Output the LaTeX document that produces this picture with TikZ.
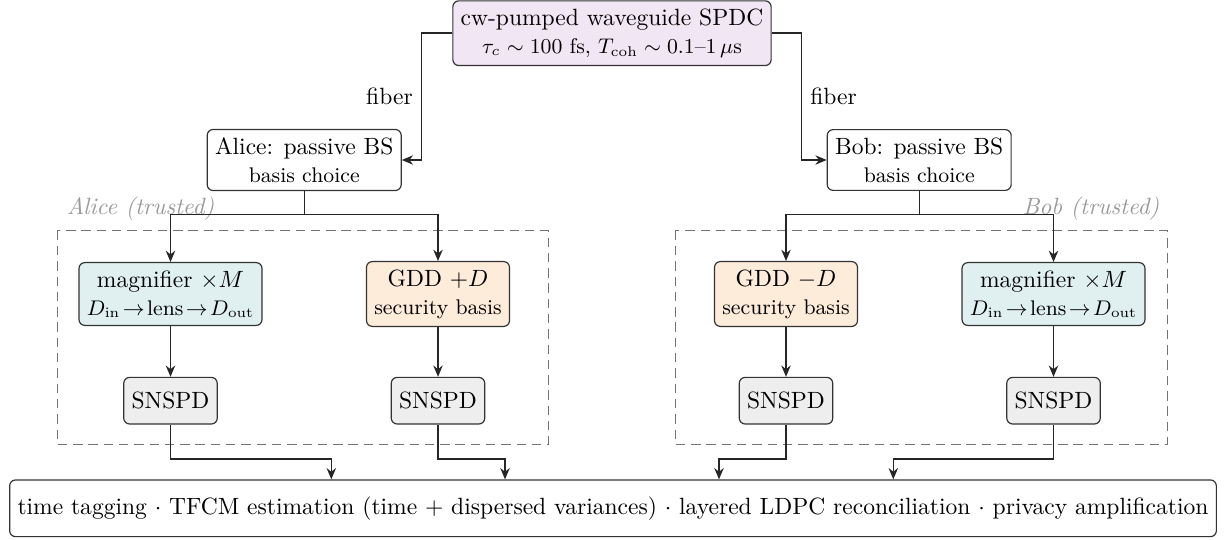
\documentclass[tikz,border=0pt]{standalone}
\usetikzlibrary{arrows.meta}
\definecolor{srcfill}{RGB}{241,230,243}
\definecolor{magfill}{RGB}{224,240,240}
\definecolor{gddfill}{RGB}{254,236,218}
\definecolor{detfill}{RGB}{238,238,238}
\begin{document}
\begin{tikzpicture}[x=0.425pt,y=-0.425pt,
  box/.style={draw=black!80, line width=0.5pt, rounded corners=2.5pt, align=center, minimum height=19.8pt, inner sep=3.33pt},
  srcbox/.style={box, fill=srcfill},
  bsbox/.style={box, fill=white},
  magbox/.style={box, fill=magfill},
  gddbox/.style={box, fill=gddfill},
  detbox/.style={box, fill=detfill},
  outbox/.style={box, fill=white, minimum height=24.1pt},
  arr/.style={draw=black!85, line width=0.6pt, -{Stealth[length=4.8pt,width=4pt]}},
  trust/.style={draw=black!55, line width=0.5pt, dash pattern=on 4pt off 2.5pt},
  trustlabel/.style={text=black!40, font=\itshape},
  fib/.style={font=\normalsize}
]
\useasboundingbox (0,0) rectangle (1225,539);

% trusted regions
\draw[trust] (57.3,230.7) rectangle (548.7,444.3);
\draw[trust] (675.3,230.7) rectangle (1167.3,444.3);
\node[trustlabel] (alab) at (140.5,209) {Alice (trusted)};
\node[trustlabel] (blab) at (1091,209) {Bob (trusted)};

% nodes
\node[srcbox] (src) at (612,33.2) {cw-pumped waveguide SPDC\\{\small $\tau_c\sim 100$ fs, $T_{\mathrm{coh}}\sim 0.1$--$1\,\mu$s}};
\node[bsbox] (alice) at (304.2,160) {Alice: passive BS\\{\small basis choice}};
\node[bsbox] (bob) at (919.2,160) {Bob: passive BS\\{\small basis choice}};

\node[magbox] (amag) at (170.5,294) {magnifier $\times M$\\{\small $D_{\mathrm{in}}\!\to\!\mathrm{lens}\!\to\!D_{\mathrm{out}}$}};
\node[gddbox] (agdd) at (438,294) {GDD $+D$\\{\small security basis}};
\node[gddbox] (bgdd) at (786,294) {GDD $-D$\\{\small security basis}};
\node[magbox] (bmag) at (1053.5,294) {magnifier $\times M$\\{\small $D_{\mathrm{in}}\!\to\!\mathrm{lens}\!\to\!D_{\mathrm{out}}$}};

\node[detbox] (asn1) at (170.5,400.7) {SNSPD};
\node[detbox] (asn2) at (438,400.7) {SNSPD};
\node[detbox] (bsn1) at (786,400.7) {SNSPD};
\node[detbox] (bsn2) at (1053.5,400.7) {SNSPD};

\node[outbox] (out) at (613,508.3) {time tagging $\cdot$ TFCM estimation (time $+$ dispersed variances) $\cdot$ layered LDPC reconciliation $\cdot$ privacy amplification};

% source to Alice/Bob
\draw[arr] (src.west) -- ++(-31,0) |- (alice.east) node[pos=0.25, left, fib] (fibA) {fiber};
\draw[arr] (src.east) -- ++(30,0) |- (bob.west) node[pos=0.25, right, fib] (fibB) {fiber};

% basis split
\coordinate (asplit) at (304.2,214.3);
\coordinate (bsplit) at (919.2,214.3);
\draw[arr] (alice.south) -- (asplit) -| (amag.north);
\draw[arr] (asplit) -| (agdd.north);
\draw[arr] (bob.south) -- (bsplit) -| (bgdd.north);
\draw[arr] (bsplit) -| (bmag.north);

% to detectors
\draw[arr] (amag) -- (asn1);
\draw[arr] (agdd) -- (asn2);
\draw[arr] (bgdd) -- (bsn1);
\draw[arr] (bmag) -- (bsn2);

% detectors to processing
\coordinate (x1) at (331.3,0);
\coordinate (x2) at (505,0);
\coordinate (x3) at (719,0);
\coordinate (x4) at (893.3,0);
\draw[arr] (asn1.south) -- ++(0,34.3) -| (out.north -| x1);
\draw[arr] (asn2.south) -- ++(0,34.3) -| (out.north -| x2);
\draw[arr] (bsn1.south) -- ++(0,34.3) -| (out.north -| x3);
\draw[arr] (bsn2.south) -- ++(0,34.3) -| (out.north -| x4);
\end{tikzpicture}
\end{document}
